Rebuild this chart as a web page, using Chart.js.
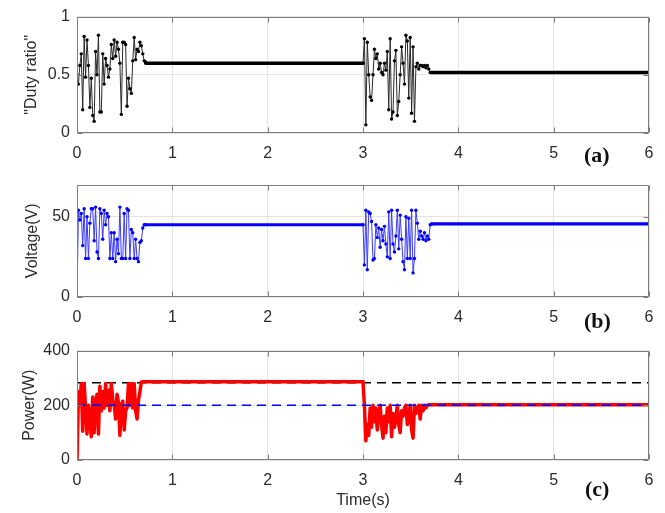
<!DOCTYPE html>
<html><head><meta charset="utf-8">
<script src="https://cdn.jsdelivr.net/npm/chart.js@4/dist/chart.umd.min.js"></script>
<style>
html,body{margin:0;padding:0;background:#fff;}
#wrap{position:relative;width:665px;height:513px;overflow:hidden;background:#fff;}
canvas{position:absolute;left:0;}
.tag{position:absolute;font:bold 22px "Liberation Serif","Times New Roman",serif;color:#111;line-height:1;}
</style></head><body>
<div id="wrap">
<canvas id="ca" width="665" height="168" style="top:0px"></canvas>
<canvas id="cb" width="665" height="166" style="top:168px"></canvas>
<canvas id="cc" width="665" height="179" style="top:334px"></canvas>
<div class="tag" style="left:584px;top:144px">(a)</div>
<div class="tag" style="left:584px;top:310px">(b)</div>
<div class="tag" style="left:585px;top:478px">(c)</div>
</div>
<script>
// ---- data ----
const xTicks = [0, 1, 2, 3, 4, 5, 6];
const tTrans1 = [0,0.015,0.03,0.045,0.06,0.075,0.09,0.105,0.12,0.135,0.15,0.165,0.18,0.195,0.21,0.225,0.24,0.255,0.27,0.285,0.3,0.315,0.33,0.345,0.36,0.375,0.39,0.405,0.42,0.435,0.45,0.465,0.48,0.495,0.51,0.525,0.54,0.555,0.57,0.585,0.6,0.615,0.63,0.645,0.66,0.675,0.69,0.705,0.72];
const tTrans2 = [3,3.015,3.03,3.045,3.06,3.075,3.09,3.105,3.12,3.135,3.15,3.165,3.18,3.195,3.21,3.225,3.24,3.255,3.27,3.285,3.3,3.315,3.33,3.345,3.36,3.375,3.39,3.405,3.42,3.435,3.45,3.465,3.48,3.495,3.51,3.525,3.54,3.555,3.57,3.585,3.6,3.615,3.63,3.645,3.66,3.675,3.69,3.705,3.72];
const steadyStart = [0.72, 3.72];
const steadyEnd = [3.0, 6.0];

const dutyTrans1 = [0.50,0.42,0.58,0.68,0.20,0.83,0.48,0.80,0.58,0.22,0.47,0.15,0.10,0.70,0.50,0.84,0.18,0.18,0.68,0.42,0.64,0.58,0.48,0.55,0.76,0.64,0.80,0.66,0.78,0.72,0.60,0.16,0.78,0.78,0.76,0.23,0.47,0.38,0.34,0.62,0.82,0.63,0.72,0.70,0.78,0.75,0.68,0.62,0.61];
const dutyTrans2 = [0.60,0.81,0.07,0.78,0.50,0.31,0.28,0.50,0.72,0.64,0.68,0.55,0.60,0.52,0.50,0.60,0.54,0.70,0.20,0.81,0.12,0.18,0.62,0.71,0.15,0.27,0.50,0.74,0.60,0.42,0.84,0.79,0.30,0.82,0.17,0.74,0.10,0.57,0.60,0.55,0.58,0.58,0.57,0.58,0.56,0.58,0.55,0.52,0.52];
const dutySteady = [0.60, 0.52];

const voltTrans1 = [0,54,48,52,32,55,24,50,24,46,55,55,35,56,28,24,55,52,36,54,45,52,50,24,40,24,40,22,36,27,56,24,24,52,24,55,54,24,42,40,24,36,24,22,34,35,43,45,45];
const voltTrans2 = [45,20,54,17,53,52,47,23,24,45,37,43,31,42,35,44,33,25,53,24,54,33,28,38,54,30,51,36,22,17,50,24,49,24,54,15,24,54,46,36,41,38,36,40,35,38,36,45,45.5];
const voltSteady = [45, 45.5];

const powerTrans1 = [0,250,200,280,105,280,190,95,200,150,85,230,100,210,240,95,270,180,250,190,280,200,255,180,280,220,200,150,240,210,90,200,215,110,180,190,280,200,280,190,280,180,150,220,250,285,286,286,286];
const powerTrans2 = [286,200,70,130,90,190,120,200,140,190,110,170,200,130,80,160,100,190,140,200,85,170,120,150,200,130,100,180,160,190,200,130,150,200,110,80,200,170,190,200,150,200,180,200,190,200,202,202,202];
const powerSteady = [286, 202];
const powerRefMax = 282;
const powerRefLow = 200;

const dutyTicks = [0, 0.5, 1];
const voltTicks = [0, 50];
const powerTicks = [0, 200, 400];

// ---- helpers ----
function pts(t, v){ return t.map((x,i)=>({x:x, y:v[i]})); }
function steadyPts(v){
  const out = [];
  steadyStart.forEach((s,i)=>{ out.push({x:s,y:v[i]}); out.push({x:steadyEnd[i],y:v[i]}); if(i<steadyStart.length-1) out.push({x:(steadyEnd[i]+steadyStart[i+1])/2,y:null}); });
  return out;
}
const FONT = '"Liberation Sans", Arial, sans-serif';
const TXT = '#2b2b2b';

const boxPlugin = {
  id: 'box',
  afterDraw(chart){
    const {ctx, chartArea:a, scales} = chart;
    ctx.save();
    ctx.strokeStyle = '#7d7d7d'; ctx.lineWidth = 1;
    const L = Math.round(a.left)+0.5, R = Math.round(a.right)-0.5, T = Math.round(a.top)+0.5, B = Math.round(a.bottom)-0.5;
    ctx.beginPath();
    ctx.rect(L, T, R-L, B-T);
    scales.x.ticks.forEach(t=>{
      const p = Math.round(scales.x.getPixelForValue(t.value))+0.5;
      ctx.moveTo(p,B); ctx.lineTo(p,B-5); ctx.moveTo(p,T); ctx.lineTo(p,T+5);
    });
    scales.y.ticks.forEach(t=>{
      const p = Math.round(scales.y.getPixelForValue(t.value))+0.5;
      ctx.moveTo(L,p); ctx.lineTo(L+5,p); ctx.moveTo(R,p); ctx.lineTo(R-5,p);
    });
    ctx.stroke();
    ctx.restore();
  }
};

function makeOpts(cfg){
  return {
    responsive:false, animation:false, devicePixelRatio:1,
    layout:{padding:{left:0,right:16,top:cfg.top,bottom:0}},
    plugins:{legend:{display:false}, tooltip:{enabled:false}},
    elements:{line:{tension:0, borderJoinStyle:'round', borderCapStyle:'round'}},
    scales:{
      x:{type:'linear', min:0, max:6,
        afterBuildTicks:s=>{ s.ticks = xTicks.map(v=>({value:v})); },
        afterFit:s=>{ s.height = cfg.xh; },
        grid:{color:'#e4e4e4', drawTicks:false},
        border:{display:false},
        ticks:{padding:11, color:TXT, font:{family:FONT,size:16}, maxRotation:0, callback:v=>String(v)},
        title: cfg.xtitle ? {display:true, text:cfg.xtitle, color:TXT, font:{family:FONT,size:16}, padding:{top:0,bottom:3}} : {display:false}
      },
      y:{type:'linear', min:cfg.ymin, max:cfg.ymax,
        afterBuildTicks:s=>{ s.ticks = cfg.yticks.map(v=>({value:v})); },
        afterFit:s=>{ s.width = 77; },
        grid:{color:'#e4e4e4', drawTicks:false},
        border:{display:false},
        ticks:{padding:7, color:TXT, font:{family:FONT,size:16}, callback:v=>String(v)},
        title:{display:true, text:cfg.ytitle, color:TXT, font:{family:FONT,size:16}, padding:{top:cfg.ytp,bottom:0}}
      }
    }
  };
}

// (a) duty ratio
new Chart(document.getElementById('ca'), {
  type:'line',
  data:{datasets:[
    {data:pts(tTrans1,dutyTrans1), borderColor:'#2a2a2a', borderWidth:1, pointRadius:1.7, pointBackgroundColor:'#000', pointBorderColor:'#000', pointBorderWidth:0},
    {data:pts(tTrans2,dutyTrans2), borderColor:'#2a2a2a', borderWidth:1, pointRadius:1.7, pointBackgroundColor:'#000', pointBorderColor:'#000', pointBorderWidth:0},
    {data:steadyPts(dutySteady), borderColor:'#000', borderWidth:3.5, pointRadius:0, spanGaps:false}
  ]},
  options:makeOpts({top:14, xh:35, ymin:0, ymax:1, yticks:dutyTicks, ytitle:'"Duty ratio"', ytp:22}),
  plugins:[boxPlugin]
});

// (b) voltage
new Chart(document.getElementById('cb'), {
  type:'line',
  data:{datasets:[
    {data:pts(tTrans1,voltTrans1), borderColor:'#3b3bff', borderWidth:1, pointRadius:1.7, pointBackgroundColor:'#0000ff', pointBorderColor:'#0000ff', pointBorderWidth:0},
    {data:pts(tTrans2,voltTrans2), borderColor:'#3b3bff', borderWidth:1, pointRadius:1.7, pointBackgroundColor:'#0000ff', pointBorderColor:'#0000ff', pointBorderWidth:0},
    {data:steadyPts(voltSteady), borderColor:'#0000ff', borderWidth:3.2, pointRadius:0, spanGaps:false}
  ]},
  options:makeOpts({top:12, xh:37, ymin:0, ymax:70, yticks:voltTicks, ytitle:'Voltage(V)', ytp:23}),
  plugins:[boxPlugin]
});

// (c) power
new Chart(document.getElementById('cc'), {
  type:'line',
  data:{datasets:[
    {data:[{x:0,y:powerRefLow},{x:6,y:powerRefLow}], borderColor:'#0000ff', borderWidth:1.5, borderDash:[9,6], borderCapStyle:'butt', pointRadius:0, order:0},
    {data:pts(tTrans1,powerTrans1), borderColor:'#ff0000', borderWidth:3.5, pointRadius:0, order:1},
    {data:pts(tTrans2,powerTrans2), borderColor:'#ff0000', borderWidth:3.5, pointRadius:0, order:1},
    {data:steadyPts(powerSteady), borderColor:'#ff0000', borderWidth:3.5, pointRadius:0, spanGaps:false, order:1},
    {data:[{x:0,y:powerRefMax},{x:6,y:powerRefMax}], borderColor:'#000', borderWidth:1.5, borderDash:[9,6], borderCapStyle:'butt', pointRadius:0, order:2}
  ]},
  options:makeOpts({top:10, xh:53, ymin:0, ymax:400, yticks:powerTicks, ytitle:'Power(W)', ytp:20, xtitle:'Time(s)'}),
  plugins:[boxPlugin]
});
</script>
</body></html>
